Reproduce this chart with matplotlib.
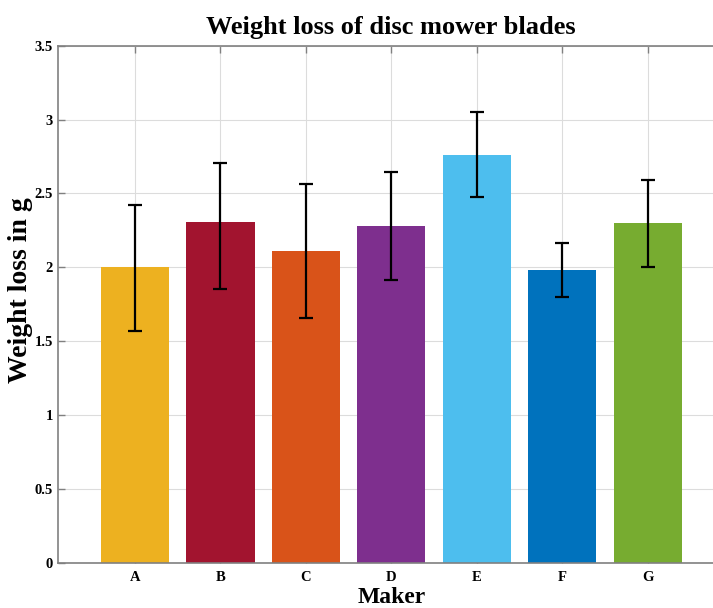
import matplotlib.pyplot as plt
import numpy as np

makers = ['A', 'B', 'C', 'D', 'E', 'F', 'G']
weight_loss = [2.00, 2.305, 2.112, 2.279, 2.761, 1.979, 2.297]
err_upper = [2.425, 2.709, 2.567, 2.648, 3.051, 2.164, 2.594]
err_lower = [1.571, 1.851, 1.654, 1.916, 2.473, 1.799, 1.999]
bar_colors = ['#EDB120', '#A2142F', '#D95319', '#7E2F8E', '#4DBEEE', '#0072BD', '#77AC30']

plt.rcParams['font.family'] = ['Liberation Serif', 'DejaVu Serif']
plt.rcParams['font.weight'] = 'bold'

fig = plt.figure(figsize=(7.13, 6.08), dpi=100)
ax = fig.add_axes([0.0813, 0.074, 0.935, 0.851])

x = np.arange(1, len(makers) + 1)
vals = np.array(weight_loss)
yerr = [vals - np.array(err_lower), np.array(err_upper) - vals]

ax.bar(x, vals, width=0.8, color=bar_colors, zorder=2)
ax.errorbar(x, vals, yerr=yerr, fmt='none', ecolor='black', elinewidth=1.6,
            capsize=4.8, capthick=1.6, zorder=3)

ax.set_xlim(0.1, 7.9)
ax.set_ylim(0, 3.5)
ax.set_xticks(x)
ax.set_xticklabels(makers)
ax.set_yticks(np.arange(0, 3.51, 0.5))
ax.set_yticklabels(['0', '0.5', '1', '1.5', '2', '2.5', '3', '3.5'])

ax.grid(True, color='#dcdcdc', linewidth=0.8, zorder=0)
ax.set_axisbelow(True)
for s in ax.spines.values():
    s.set_color('#808080')
    s.set_linewidth(1.2)
ax.tick_params(direction='in', length=5, width=1, colors='#808080',
               labelcolor='black', labelsize=10.5, top=True, right=True)
ax.tick_params(axis='x', pad=6)

ax.set_title('Weight loss of disc mower blades', fontsize=19, fontweight='bold', pad=8)
ax.set_xlabel('Maker', fontsize=17, fontweight='bold', labelpad=2)
ax.set_ylabel('Weight loss in g', fontsize=20, fontweight='bold')
ax.yaxis.set_label_coords(-0.0375, 0.528)

fig.savefig('out.png', dpi=100)
